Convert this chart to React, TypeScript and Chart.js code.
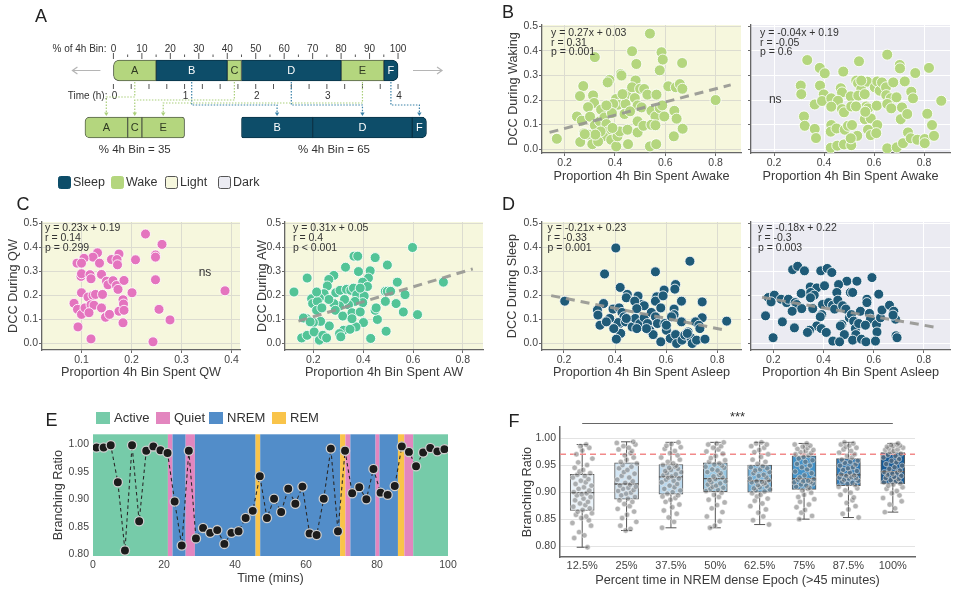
import React, { useEffect, useRef } from 'react';
import { Chart, registerables } from 'chart.js';

Chart.register(...registerables);

const FONT = "'Liberation Sans', Arial, Helvetica, sans-serif";
Chart.defaults.font.family = FONT;
Chart.defaults.font.size = 10.5;
Chart.defaults.color = '#444';

// ---------------- Panel A data ----------------
const aSegLabels = ['A', 'B', 'C', 'D', 'E', 'F'];
const aSegState = ['Wake', 'Sleep', 'Wake', 'Sleep', 'Wake', 'Sleep'];
const aTopStart = [0, 15, 40, 45, 80, 95];
const aTopEnd = [15, 40, 45, 80, 95, 100];
const aBotStart = [-10, 45, 5, 70, 10, 105];
const aBotEnd = [5, 70, 10, 105, 25, 110];
const aLinkLevel = [97, 105, 100, 105, 103, 105];
const aPctTicks = [0, 10, 20, 30, 40, 50, 60, 70, 80, 90, 100];
const aPctMinor = [5, 15, 25, 35, 45, 55, 65, 75, 85, 95];
const aHourTicks = [0, 1, 2, 3, 4];
const aBinShare = [35, 65];
const aLegendNames = ['Sleep', 'Wake', 'Light', 'Dark'];

// ---------------- Scatter data (B, C, D) ----------------
const wakeLightPts = [[0.539,0.471],[0.169,0.042],[0.320,0.375],[0.468,0.399],[0.585,0.395],[0.590,0.365],[0.578,0.321],[0.667,0.351],[0.485,0.347],[0.423,0.306],[0.426,0.300],[0.378,0.282],[0.371,0.272],[0.482,0.280],[0.274,0.257],[0.261,0.216],[0.313,0.219],[0.317,0.188],[0.293,0.171],[0.345,0.161],[0.386,0.167],[0.404,0.204],[0.412,0.181],[0.393,0.184],[0.446,0.224],[0.442,0.184],[0.468,0.252],[0.479,0.208],[0.500,0.246],[0.516,0.245],[0.529,0.222],[0.565,0.222],[0.490,0.178],[0.506,0.170],[0.545,0.156],[0.561,0.133],[0.578,0.167],[0.588,0.178],[0.596,0.133],[0.612,0.256],[0.642,0.252],[0.658,0.265],[0.668,0.246],[0.636,0.156],[0.645,0.124],[0.634,0.052],[0.669,0.083],[0.800,0.200],[0.249,0.133],[0.268,0.116],[0.301,0.132],[0.277,0.065],[0.262,0.029],[0.293,0.059],[0.320,0.097],[0.340,0.113],[0.358,0.129],[0.366,0.102],[0.373,0.072],[0.353,0.052],[0.310,0.020],[0.333,0.031],[0.385,0.038],[0.405,0.011],[0.410,0.052],[0.419,0.072],[0.450,0.079],[0.452,0.020],[0.490,0.113],[0.490,0.068],[0.513,0.095],[0.539,0.011],[0.564,0.020],[0.545,0.099],[0.561,0.097],[0.343,0.072],[0.322,0.059],[0.390,0.086],[0.438,0.143],[0.460,0.154],[0.388,0.147],[0.366,0.178],[0.280,0.061],[0.430,0.224]];
const wakeLightFit = [[0.14,0.068],[0.86,0.262]];

const wakeDarkPts = [[0.333,0.363],[0.383,0.331],[0.403,0.309],[0.477,0.316],[0.540,0.358],[0.653,0.385],[0.703,0.343],[0.704,0.329],[0.765,0.310],[0.820,0.331],[0.307,0.259],[0.309,0.224],[0.384,0.259],[0.399,0.223],[0.363,0.182],[0.392,0.196],[0.429,0.207],[0.467,0.248],[0.472,0.231],[0.456,0.197],[0.429,0.173],[0.472,0.163],[0.480,0.150],[0.507,0.215],[0.529,0.279],[0.536,0.269],[0.549,0.245],[0.537,0.218],[0.563,0.224],[0.573,0.275],[0.603,0.252],[0.613,0.276],[0.623,0.238],[0.632,0.272],[0.648,0.252],[0.649,0.220],[0.667,0.207],[0.677,0.272],[0.690,0.211],[0.723,0.276],[0.749,0.234],[0.756,0.207],[0.869,0.197],[0.569,0.174],[0.576,0.166],[0.611,0.177],[0.653,0.184],[0.669,0.166],[0.712,0.170],[0.509,0.174],[0.528,0.174],[0.563,0.122],[0.587,0.125],[0.565,0.152],[0.613,0.098],[0.707,0.122],[0.733,0.143],[0.813,0.144],[0.320,0.133],[0.323,0.095],[0.363,0.082],[0.368,0.045],[0.429,0.098],[0.427,0.071],[0.450,0.084],[0.483,0.079],[0.496,0.095],[0.512,0.098],[0.533,0.054],[0.576,0.079],[0.587,0.057],[0.609,0.065],[0.427,0.005],[0.453,0.014],[0.480,0.019],[0.509,0.016],[0.507,0.044],[0.653,0.003],[0.691,0.007],[0.716,0.024],[0.736,0.068],[0.747,0.044],[0.773,0.038],[0.803,0.041],[0.803,0.024],[0.840,0.054],[0.832,0.098],[0.549,0.279]];

const qwPts = [[0.228,0.455],[0.261,0.412],[0.132,0.377],[0.123,0.359],[0.105,0.354],[0.091,0.334],[0.100,0.334],[0.136,0.334],[0.160,0.349],[0.175,0.372],[0.171,0.349],[0.172,0.327],[0.208,0.348],[0.248,0.368],[0.248,0.359],[0.099,0.279],[0.100,0.290],[0.117,0.286],[0.119,0.269],[0.140,0.287],[0.150,0.259],[0.153,0.244],[0.163,0.261],[0.170,0.241],[0.173,0.225],[0.185,0.262],[0.248,0.265],[0.100,0.211],[0.113,0.193],[0.123,0.200],[0.128,0.204],[0.142,0.204],[0.201,0.211],[0.387,0.219],[0.085,0.167],[0.092,0.142],[0.100,0.121],[0.107,0.148],[0.119,0.161],[0.125,0.159],[0.115,0.128],[0.140,0.148],[0.148,0.109],[0.156,0.121],[0.175,0.134],[0.183,0.182],[0.184,0.164],[0.185,0.138],[0.183,0.086],[0.255,0.142],[0.277,0.098],[0.093,0.069],[0.119,0.019],[0.243,0.007]];

const awPts = [[0.598,0.399],[0.363,0.363],[0.378,0.363],[0.448,0.357],[0.497,0.326],[0.329,0.317],[0.381,0.299],[0.428,0.302],[0.421,0.272],[0.398,0.255],[0.417,0.237],[0.175,0.272],[0.282,0.283],[0.262,0.266],[0.256,0.239],[0.243,0.207],[0.122,0.214],[0.290,0.211],[0.307,0.221],[0.333,0.225],[0.350,0.221],[0.361,0.230],[0.374,0.203],[0.404,0.197],[0.398,0.170],[0.367,0.175],[0.341,0.161],[0.325,0.183],[0.305,0.156],[0.282,0.166],[0.262,0.183],[0.224,0.189],[0.193,0.186],[0.197,0.166],[0.216,0.175],[0.213,0.138],[0.234,0.148],[0.288,0.138],[0.318,0.114],[0.355,0.128],[0.388,0.131],[0.401,0.087],[0.371,0.069],[0.355,0.103],[0.321,0.055],[0.305,0.041],[0.310,0.028],[0.264,0.073],[0.229,0.092],[0.200,0.087],[0.173,0.103],[0.160,0.106],[0.187,0.090],[0.153,0.023],[0.175,0.034],[0.203,0.048],[0.224,0.014],[0.238,0.034],[0.253,0.023],[0.347,0.059],[0.430,0.021],[0.492,0.051],[0.457,0.100],[0.448,0.138],[0.452,0.148],[0.489,0.175],[0.489,0.217],[0.497,0.217],[0.510,0.217],[0.532,0.166],[0.537,0.255],[0.568,0.203],[0.561,0.131],[0.618,0.120],[0.722,0.255],[0.213,0.214],[0.388,0.230]];
const awFit = [[0.14,0.093],[0.84,0.31]];

const sleepLightPts = [[0.403,0.397],[0.693,0.342],[0.558,0.298],[0.359,0.289],[0.420,0.233],[0.448,0.204],[0.444,0.190],[0.490,0.197],[0.503,0.162],[0.514,0.157],[0.477,0.176],[0.485,0.145],[0.563,0.194],[0.558,0.176],[0.592,0.222],[0.588,0.198],[0.579,0.148],[0.637,0.245],[0.634,0.226],[0.660,0.176],[0.631,0.143],[0.631,0.120],[0.741,0.173],[0.741,0.107],[0.837,0.093],[0.203,0.176],[0.355,0.166],[0.331,0.139],[0.333,0.118],[0.341,0.076],[0.392,0.143],[0.416,0.148],[0.427,0.129],[0.435,0.111],[0.418,0.083],[0.412,0.087],[0.441,0.090],[0.422,0.042],[0.405,0.018],[0.467,0.069],[0.479,0.104],[0.497,0.083],[0.514,0.107],[0.527,0.083],[0.536,0.055],[0.542,0.129],[0.558,0.111],[0.566,0.083],[0.549,0.037],[0.579,0.007],[0.595,0.083],[0.601,0.055],[0.621,0.111],[0.616,0.021],[0.637,0.037],[0.641,0.000],[0.660,0.090],[0.662,0.014],[0.673,0.035],[0.686,0.048],[0.697,0.024],[0.702,0.000],[0.719,0.014],[0.715,0.090],[0.728,0.076],[0.732,0.062],[0.752,0.018],[0.683,0.042],[0.601,0.076],[0.523,0.062],[0.485,0.062],[0.444,0.104],[0.379,0.104],[0.366,0.090],[0.395,0.062]];
const sleepLightFit = [[0.15,0.199],[0.84,0.054]];

const sleepDarkPts = [[0.277,0.307],[0.297,0.321],[0.324,0.302],[0.389,0.302],[0.415,0.312],[0.433,0.295],[0.593,0.274],[0.493,0.259],[0.533,0.259],[0.347,0.235],[0.373,0.231],[0.404,0.240],[0.460,0.245],[0.453,0.212],[0.507,0.212],[0.516,0.212],[0.573,0.184],[0.573,0.170],[0.620,0.205],[0.180,0.191],[0.204,0.201],[0.191,0.173],[0.231,0.184],[0.253,0.170],[0.260,0.184],[0.311,0.208],[0.349,0.212],[0.363,0.201],[0.348,0.190],[0.287,0.170],[0.293,0.162],[0.313,0.145],[0.275,0.134],[0.169,0.115],[0.236,0.090],[0.199,0.024],[0.284,0.065],[0.357,0.145],[0.396,0.162],[0.393,0.120],[0.387,0.111],[0.373,0.073],[0.344,0.055],[0.336,0.046],[0.391,0.062],[0.411,0.046],[0.437,0.010],[0.420,0.170],[0.436,0.159],[0.444,0.143],[0.457,0.180],[0.476,0.157],[0.489,0.143],[0.473,0.079],[0.467,0.073],[0.483,0.037],[0.464,0.007],[0.503,0.107],[0.511,0.120],[0.520,0.093],[0.527,0.062],[0.529,0.037],[0.516,0.014],[0.540,0.083],[0.547,0.134],[0.551,0.018],[0.569,0.007],[0.583,0.125],[0.587,0.101],[0.567,0.076],[0.611,0.079],[0.613,0.048],[0.607,0.010],[0.627,0.107],[0.633,0.139],[0.663,0.159],[0.680,0.134],[0.687,0.101],[0.677,0.118],[0.689,0.032],[0.693,0.024]];
const sleepDarkFit = [[0.155,0.192],[0.855,0.066]];

// ---------------- Panel E data ----------------
const eTime = [1,3,5,7,9,11,13,15,17,19,21,23,25,27,29,31,33,35,37,39,41,43,45,47,49,51,53,55,57,59,61,63,65,67,69,71,73,75,77,79,81,83,85,87,89,91,93,95,97,99];
const eRatio = [0.994,0.994,0.998,0.931,0.807,0.998,0.860,0.988,0.996,0.989,0.984,0.896,0.816,0.988,0.829,0.848,0.839,0.844,0.819,0.839,0.842,0.866,0.879,0.942,0.866,0.901,0.877,0.919,0.892,0.923,0.838,0.835,0.901,0.992,0.842,0.988,0.911,0.922,0.900,0.955,0.912,0.908,0.924,0.996,0.986,0.960,0.985,0.993,0.987,0.991];
const eBandStart = [0, 21.1, 22.4, 26.1, 28.7, 45.8, 47.1, 69.6, 71.1, 72.5, 79.6, 80.7, 85.9, 87.7, 90.2];
const eBandEnd = [21.1, 22.4, 26.1, 28.7, 45.8, 47.1, 69.6, 71.1, 72.5, 79.6, 80.7, 85.9, 87.7, 90.2, 100];
const eBandState = ['Active','Quiet','NREM','Quiet','NREM','REM','NREM','REM','Quiet','NREM','Quiet','NREM','REM','Quiet','Active'];
const eStates = ['Active', 'Quiet', 'NREM', 'REM'];
const eXTicks = [0, 20, 40, 60, 80, 100];
const eYTicks = [0.80, 0.85, 0.90, 0.95, 1.00];

// ---------------- Panel F data ----------------
const fLabels = ['12.5%', '25%', '37.5%', '50%', '62.5%', '75%', '87.5%', '100%'];
const fMin = [0.798, 0.829, 0.834, 0.834, 0.840, 0.850, 0.853, 0.863];
const fQ1 = [0.866, 0.887, 0.896, 0.901, 0.900, 0.905, 0.912, 0.915];
const fMed = [0.899, 0.915, 0.928, 0.925, 0.921, 0.925, 0.932, 0.938];
const fQ3 = [0.933, 0.954, 0.951, 0.954, 0.950, 0.967, 0.962, 0.973];
const fMax = [0.988, 0.993, 0.992, 0.992, 0.992, 0.990, 0.992, 0.990];
const fRef = 0.97;
const fYTicks = [0.80, 0.85, 0.90, 0.95, 1.00];
const fPoints = [
  [0.798,0.815,0.82,0.826,0.838,0.843,0.848,0.852,0.855,0.858,0.861,0.864,0.867,0.87,0.873,0.876,0.879,0.882,0.885,0.888,0.891,0.894,0.896,0.898,0.900,0.903,0.906,0.909,0.912,0.915,0.918,0.921,0.924,0.927,0.93,0.932,0.935,0.938,0.941,0.945,0.95,0.955,0.962,0.97,0.977,0.982,0.985,0.988],
  [0.829,0.832,0.838,0.845,0.852,0.858,0.864,0.869,0.874,0.878,0.882,0.885,0.888,0.891,0.894,0.897,0.899,0.902,0.904,0.906,0.908,0.91,0.912,0.914,0.917,0.92,0.923,0.927,0.93,0.934,0.937,0.941,0.944,0.947,0.95,0.953,0.956,0.96,0.964,0.968,0.972,0.976,0.979,0.982,0.985,0.988,0.991,0.993],
  [0.834,0.845,0.853,0.86,0.866,0.872,0.877,0.882,0.886,0.889,0.892,0.894,0.897,0.9,0.903,0.906,0.909,0.912,0.915,0.918,0.921,0.923,0.925,0.927,0.929,0.931,0.933,0.935,0.937,0.939,0.941,0.943,0.945,0.947,0.949,0.95,0.953,0.956,0.96,0.964,0.968,0.972,0.976,0.98,0.983,0.986,0.989,0.992],
  [0.834,0.838,0.846,0.855,0.863,0.87,0.876,0.881,0.886,0.891,0.895,0.899,0.902,0.904,0.906,0.908,0.91,0.912,0.914,0.916,0.918,0.92,0.922,0.924,0.927,0.929,0.932,0.935,0.937,0.94,0.942,0.945,0.947,0.949,0.951,0.953,0.956,0.959,0.963,0.967,0.971,0.975,0.979,0.982,0.985,0.988,0.99,0.992],
  [0.84,0.848,0.855,0.862,0.868,0.874,0.879,0.884,0.888,0.892,0.895,0.898,0.901,0.903,0.905,0.907,0.909,0.911,0.913,0.915,0.917,0.918,0.919,0.92,0.922,0.925,0.927,0.93,0.932,0.935,0.937,0.94,0.942,0.944,0.946,0.948,0.952,0.956,0.96,0.965,0.97,0.974,0.978,0.982,0.985,0.988,0.99,0.992],
  [0.85,0.856,0.862,0.867,0.872,0.877,0.882,0.887,0.891,0.895,0.899,0.903,0.906,0.908,0.91,0.912,0.914,0.916,0.918,0.919,0.92,0.921,0.923,0.924,0.927,0.931,0.935,0.938,0.942,0.946,0.949,0.952,0.956,0.959,0.962,0.965,0.968,0.97,0.972,0.974,0.976,0.978,0.98,0.982,0.984,0.986,0.988,0.99],
  [0.853,0.86,0.868,0.874,0.88,0.885,0.89,0.895,0.899,0.903,0.907,0.91,0.913,0.915,0.917,0.919,0.921,0.923,0.925,0.926,0.927,0.928,0.93,0.931,0.933,0.936,0.939,0.941,0.944,0.946,0.949,0.951,0.954,0.956,0.958,0.96,0.964,0.967,0.97,0.973,0.976,0.979,0.982,0.984,0.986,0.988,0.99,0.992],
  [0.863,0.87,0.877,0.883,0.889,0.894,0.898,0.902,0.906,0.909,0.912,0.914,0.916,0.918,0.92,0.922,0.924,0.926,0.928,0.93,0.932,0.934,0.936,0.937,0.94,0.943,0.946,0.949,0.952,0.955,0.958,0.961,0.964,0.967,0.969,0.971,0.974,0.976,0.978,0.979,0.981,0.982,0.984,0.985,0.986,0.987,0.988,0.99],
];
const fJitter = [0.12,-0.18,0.05,-0.07,0.2,-0.22,0.15,-0.02,0.09,-0.14,0.22,-0.1,0.01,0.17,-0.2,0.07,-0.05,0.13,-0.16,0.03,0.19,-0.12,-0.01,0.1,-0.19,0.16,-0.08,0.04,0.21,-0.15,0.08,-0.03,0.14,-0.21,0.06,-0.11,0.18,-0.06,0.02,-0.17,0.11,-0.09,0.23,-0.13,0.0,0.16,-0.04,0.09];

// ---------------- Styles ----------------
const SLEEP = '#0d4d69';
const WAKE = '#b4d67e';
const LIGHT_BG = '#f6f7dd';
const DARK_BG = '#ebebf2';
const LIGHT_GRID = '#dcdcd0';
const DARK_GRID = '#ffffff';
const STATE_COLORS: Record<string, string> = { Active: '#76cba9', Quiet: '#e386bf', NREM: '#528dc9', REM: '#f9c44a' };
const F_BOX = ['#eaf3fa', '#d2e5f3', '#b9d7ec', '#98c7e2', '#72b0d8', '#4392c8', '#2b78b6', '#175c98'];

const BASE = {
  animation: false,
  responsive: false,
  devicePixelRatio: 1,
  events: [],
};

function ChartBox(props: { left: number; top: number; width: number; height: number; build: () => any }) {
  const ref = useRef<HTMLCanvasElement | null>(null);
  useEffect(() => {
    if (!ref.current) return;
    const chart = new Chart(ref.current, props.build());
    return () => chart.destroy();
  }, []);
  return (
    <canvas
      ref={ref}
      width={props.width}
      height={props.height}
      style={{ position: 'absolute', left: props.left, top: props.top, width: props.width, height: props.height }}
    />
  );
}

// ---------------- Panel A ----------------
const aRadius: any[] = [
  [{ topLeft: 6, bottomLeft: 6 }, { topLeft: 5, bottomLeft: 5 }],
  [0, { topLeft: 2, bottomLeft: 2 }],
  [0, 0],
  [0, 0],
  [0, { topRight: 3, bottomRight: 3 }],
  [{ topRight: 6, bottomRight: 6 }, { topRight: 5, bottomRight: 5 }],
];

function arrowDown(ctx: any, x: number, y: number) {
  ctx.beginPath();
  ctx.moveTo(x - 2.2, y - 3.5);
  ctx.lineTo(x + 2.2, y - 3.5);
  ctx.lineTo(x, y);
  ctx.closePath();
  ctx.fill();
}

const aPlugin = {
  id: 'aDeco',
  afterDatasetsDraw(chart: any) {
    const ctx = chart.ctx;
    const xs = chart.scales.x;
    const ys = chart.scales.y;
    const px = (v: number) => xs.getPixelForValue(v);
    const topY = ys.getPixelForValue(0);
    const botY = ys.getPixelForValue(1);
    const half = 10.5;
    ctx.save();
    // segment letters
    chart.data.datasets.forEach((ds: any, di: number) => {
      const meta = chart.getDatasetMeta(di);
      meta.data.forEach((el: any) => {
        ctx.fillStyle = aSegState[di] === 'Sleep' ? '#ffffff' : '#2f3a22';
        ctx.font = `11px ${FONT}`;
        ctx.textAlign = 'center';
        ctx.textBaseline = 'middle';
        ctx.fillText(ds.label, (el.x + el.base) / 2, el.y + 0.5);
      });
    });
    // % of 4h bin axis
    ctx.fillStyle = '#333';
    ctx.font = `10px ${FONT}`;
    ctx.textAlign = 'right';
    ctx.textBaseline = 'middle';
    ctx.fillText('% of 4h Bin:', px(0) - 7, 49);
    ctx.textAlign = 'center';
    aPctTicks.forEach((v) => ctx.fillText(String(v), px(v), 49));
    ctx.strokeStyle = '#555';
    ctx.lineWidth = 1;
    ctx.beginPath();
    aPctTicks.forEach((v) => { ctx.moveTo(px(v), 53); ctx.lineTo(px(v), 59); });
    aPctMinor.forEach((v) => { ctx.moveTo(px(v), 54.5); ctx.lineTo(px(v), 57); });
    ctx.stroke();
    // time axis
    ctx.beginPath();
    for (let k = 0; k <= 16; k++) {
      const x = px(k * 6.25);
      ctx.moveTo(x, topY + half + 3);
      ctx.lineTo(x, topY + half + 8);
    }
    ctx.stroke();
    ctx.textAlign = 'right';
    ctx.fillText('Time (h):', px(0) - 6, 96.5);
    ctx.textAlign = 'center';
    aHourTicks.forEach((h) => ctx.fillText(String(h), px(h * 25) + 1, 96.5));
    // connectors
    const wakeBot = [Math.min(...aBotStart.filter((_, i) => aSegState[i] === 'Wake')), Math.max(...aBotEnd.filter((_, i) => aSegState[i] === 'Wake'))];
    const sleepBot = [Math.min(...aBotStart.filter((_, i) => aSegState[i] === 'Sleep')), Math.max(...aBotEnd.filter((_, i) => aSegState[i] === 'Sleep'))];
    aSegLabels.forEach((_, i) => {
      const sleep = aSegState[i] === 'Sleep';
      const col = sleep ? '#3b82a8' : '#aacf7a';
      const x0 = px((aTopStart[i] + aTopEnd[i]) / 2);
      const x1 = px((aBotStart[i] + aBotEnd[i]) / 2);
      const yl = aLinkLevel[i];
      const yEnd = botY - half - 1;
      ctx.strokeStyle = col;
      ctx.fillStyle = col;
      ctx.lineWidth = 1.2;
      ctx.setLineDash([1.5, 1.5]);
      ctx.beginPath();
      ctx.moveTo(x0, topY + half + 1);
      ctx.lineTo(x0, yl);
      ctx.lineTo(x1, yl);
      ctx.lineTo(x1, yEnd - 3);
      ctx.stroke();
      ctx.setLineDash([]);
      arrowDown(ctx, x1, yEnd);
    });
    // side arrows
    ctx.strokeStyle = '#b5b5b5';
    ctx.lineWidth = 1.2;
    ctx.beginPath();
    ctx.moveTo(px(0) - 13, topY); ctx.lineTo(px(0) - 41, topY);
    ctx.moveTo(px(0) - 36, topY - 3.5); ctx.lineTo(px(0) - 41, topY); ctx.lineTo(px(0) - 36, topY + 3.5);
    ctx.moveTo(px(100) + 15, topY); ctx.lineTo(px(100) + 44, topY);
    ctx.moveTo(px(100) + 39, topY - 3.5); ctx.lineTo(px(100) + 44, topY); ctx.lineTo(px(100) + 39, topY + 3.5);
    ctx.stroke();
    // share labels
    ctx.fillStyle = '#333';
    ctx.font = `11.5px ${FONT}`;
    ctx.textAlign = 'center';
    ctx.fillText(`% 4h Bin = ${aBinShare[0]}`, px((wakeBot[0] + wakeBot[1]) / 2), 150);
    ctx.fillText(`% 4h Bin = ${aBinShare[1]}`, px((sleepBot[0] + sleepBot[1]) / 2), 150);
    // legend
    const legX = [58, 111, 165, 218];
    const legFill = [SLEEP, WAKE, LIGHT_BG, DARK_BG];
    const legStroke = [SLEEP, WAKE, '#555', '#555'];
    ctx.font = `12.5px ${FONT}`;
    ctx.textAlign = 'left';
    aLegendNames.forEach((n, i) => {
      ctx.fillStyle = legFill[i];
      ctx.strokeStyle = legStroke[i];
      ctx.lineWidth = 1;
      ctx.beginPath();
      ctx.roundRect(legX[i] + 0.5, 176.5, 12, 12, 2);
      ctx.fill();
      ctx.stroke();
      ctx.fillStyle = '#333';
      ctx.fillText(n, legX[i] + 15, 183);
    });
    ctx.restore();
  },
};

function aConfig(): any {
  const datasets = aSegLabels.map((lab, i) => {
    const sleep = aSegState[i] === 'Sleep';
    return {
      label: lab,
      data: [[aTopStart[i], aTopEnd[i]], [aBotStart[i], aBotEnd[i]]],
      backgroundColor: sleep ? SLEEP : WAKE,
      borderColor: sleep ? '#0a3448' : '#56614a',
      borderWidth: 1,
      borderSkipped: false,
      borderRadius: aRadius[i],
      barThickness: 21,
      grouped: false,
    };
  });
  return {
    type: 'bar',
    data: { labels: ['bin', 'split'], datasets },
    options: {
      ...BASE,
      indexAxis: 'y',
      layout: { padding: { top: 42, bottom: 39, left: 0, right: 0 } },
      plugins: { legend: { display: false }, tooltip: { enabled: false } },
      scales: {
        x: { type: 'linear', min: -39.85, max: 128.8, display: false },
        y: { type: 'category', display: false, offset: true },
      },
    },
    plugins: [aPlugin],
  };
}

// ---------------- Scatter panels ----------------
type ScatterSpec = {
  plot: number[];
  xr: number[];
  yr: number[];
  xTicks: number[];
  yTicks: number[];
  showY: boolean;
  xTitle: string;
  yTitle: string;
  yTitleOff: number;
  xTitleDy: number;
  bg: string;
  grid: string;
  color: string;
  radius: number;
  pts: number[][];
  fit: number[][] | null;
  notes: string[];
  noteDx: number;
  noteDy: number;
  noteGap: number;
  ns: number[] | null;
};

const SM = { l: 48, t: 10, r: 8, b: 34 };
const T_Y = [0, 0.1, 0.2, 0.3, 0.4, 0.5];

const scatterSpecs: ScatterSpec[] = [
  { plot: [542, 25, 741, 153], xr: [0.110, 0.901], yr: [-0.016, 0.506], xTicks: [0.2, 0.4, 0.6, 0.8], yTicks: T_Y, showY: true,
    xTitle: 'Proportion 4h Bin Spent Awake', yTitle: 'DCC During Waking', yTitleOff: 29, xTitleDy: 23,
    bg: LIGHT_BG, grid: LIGHT_GRID, color: WAKE, radius: 5.5, pts: wakeLightPts, fit: wakeLightFit,
    notes: ['y = 0.27x + 0.03', 'r = 0.31', 'p = 0.001'], noteDx: 9, noteDy: 8, noteGap: 9.8, ns: null },
  { plot: [751, 25, 950, 153], xr: [0.108, 0.904], yr: [-0.016, 0.506], xTicks: [0.2, 0.4, 0.6, 0.8], yTicks: T_Y, showY: false,
    xTitle: 'Proportion 4h Bin Spent Awake', yTitle: '', yTitleOff: 0, xTitleDy: 23,
    bg: DARK_BG, grid: DARK_GRID, color: WAKE, radius: 5.5, pts: wakeDarkPts, fit: null,
    notes: ['y = -0.04x + 0.19', 'r = -0.05', 'p = 0.6'], noteDx: 9, noteDy: 8, noteGap: 9.8, ns: [0.205, 0.2] },
  { plot: [42, 222, 240, 350], xr: [0.021, 0.417], yr: [-0.027, 0.505], xTicks: [0.1, 0.2, 0.3, 0.4], yTicks: T_Y, showY: true,
    xTitle: 'Proportion 4h Bin Spent QW', yTitle: 'DCC During QW', yTitleOff: 29, xTitleDy: 22,
    bg: LIGHT_BG, grid: LIGHT_GRID, color: '#e474be', radius: 5, pts: qwPts, fit: null,
    notes: ['y = 0.23x + 0.19', 'r = 0.14', 'p = 0.299'], noteDx: 3, noteDy: 6.5, noteGap: 10, ns: [0.347, 0.296] },
  { plot: [285, 222, 483, 350], xr: [0.086, 0.881], yr: [-0.027, 0.505], xTicks: [0.2, 0.4, 0.6, 0.8], yTicks: T_Y, showY: true,
    xTitle: 'Proportion 4h Bin Spent AW', yTitle: 'DCC During AW', yTitleOff: 23, xTitleDy: 22,
    bg: LIGHT_BG, grid: LIGHT_GRID, color: '#52c497', radius: 5, pts: awPts, fit: awFit,
    notes: ['y = 0.31x + 0.05', 'r = 0.4', 'p < 0.001'], noteDx: 8, noteDy: 6.5, noteGap: 10, ns: null },
  { plot: [542, 222, 741, 350], xr: [0.114, 0.893], yr: [-0.027, 0.505], xTicks: [0.2, 0.4, 0.6, 0.8], yTicks: T_Y, showY: true,
    xTitle: 'Proportion 4h Bin Spent Asleep', yTitle: 'DCC During Sleep', yTitleOff: 30, xTitleDy: 22,
    bg: LIGHT_BG, grid: LIGHT_GRID, color: '#1f5b78', radius: 5, pts: sleepLightPts, fit: sleepLightFit,
    notes: ['y = -0.21x + 0.23', 'r = -0.33', 'p = 0.001'], noteDx: 5.5, noteDy: 6.5, noteGap: 10, ns: null },
  { plot: [751, 222, 950, 350], xr: [0.111, 0.904], yr: [-0.027, 0.505], xTicks: [0.2, 0.4, 0.6, 0.8], yTicks: T_Y, showY: false,
    xTitle: 'Proportion 4h Bin Spent Asleep', yTitle: '', yTitleOff: 0, xTitleDy: 22,
    bg: DARK_BG, grid: DARK_GRID, color: '#1f5b78', radius: 5, pts: sleepDarkPts, fit: sleepDarkFit,
    notes: ['y = -0.18x + 0.22', 'r = -0.3', 'p = 0.003'], noteDx: 7, noteDy: 6.5, noteGap: 10, ns: null },
];

function scatterPlugin(s: ScatterSpec) {
  return {
    id: 'scatterDeco',
    beforeDraw(chart: any) {
      const { ctx, chartArea: a } = chart;
      ctx.save();
      ctx.fillStyle = s.bg;
      ctx.fillRect(a.left, a.top, a.right - a.left, a.bottom - a.top);
      ctx.restore();
    },
    afterDraw(chart: any) {
      const { ctx, chartArea: a, scales } = chart;
      ctx.save();
      ctx.fillStyle = '#333';
      ctx.textBaseline = 'middle';
      ctx.textAlign = 'left';
      ctx.font = `10.5px ${FONT}`;
      s.notes.forEach((t, i) => ctx.fillText(t, a.left + s.noteDx, a.top + s.noteDy + i * s.noteGap));
      if (s.ns) {
        ctx.font = `12px ${FONT}`;
        ctx.textAlign = 'center';
        ctx.fillText('ns', scales.x.getPixelForValue(s.ns[0]), scales.y.getPixelForValue(s.ns[1]));
      }
      ctx.font = `12.7px ${FONT}`;
      ctx.textAlign = 'center';
      ctx.fillStyle = '#3a3a3a';
      ctx.fillText(s.xTitle, (a.left + a.right) / 2, a.bottom + s.xTitleDy);
      if (s.yTitle) {
        ctx.translate(a.left - s.yTitleOff, (a.top + a.bottom) / 2);
        ctx.rotate(-Math.PI / 2);
        ctx.fillText(s.yTitle, 0, 0);
      }
      ctx.restore();
    },
  };
}

function scatterConfig(s: ScatterSpec): any {
  const datasets: any[] = [];
  if (s.fit) {
    datasets.push({
      type: 'line',
      data: s.fit.map((p) => ({ x: p[0], y: p[1] })),
      borderColor: 'rgba(150,150,145,0.9)',
      borderWidth: 3,
      borderDash: [9, 6],
      pointRadius: 0,
      fill: false,
    });
  }
  datasets.push({
    type: 'scatter',
    data: s.pts.map((p) => ({ x: p[0], y: p[1] })),
    backgroundColor: s.color,
    borderColor: 'rgba(255,255,255,0.85)',
    borderWidth: 1,
    pointRadius: s.radius,
  });
  return {
    type: 'scatter',
    data: { datasets },
    options: {
      ...BASE,
      layout: { padding: { left: 0, top: SM.t, right: SM.r, bottom: 0 } },
      plugins: { legend: { display: false }, tooltip: { enabled: false } },
      scales: {
        x: {
          type: 'linear', min: s.xr[0], max: s.xr[1],
          afterBuildTicks: (ax: any) => { ax.ticks = s.xTicks.map((v) => ({ value: v })); },
          afterFit: (ax: any) => { ax.height = SM.b; },
          ticks: { font: { size: 10.5 }, color: '#444', padding: 1, callback: (v: any) => Number(v).toFixed(1) },
          grid: { color: s.grid, lineWidth: 1, drawTicks: true, tickLength: 3, tickColor: '#666' },
          border: { display: true, color: '#666', width: 1.3 },
        },
        y: {
          type: 'linear', min: s.yr[0], max: s.yr[1],
          afterBuildTicks: (ax: any) => { ax.ticks = s.yTicks.map((v) => ({ value: v })); },
          afterFit: (ax: any) => { ax.width = SM.l; },
          ticks: { display: s.showY, font: { size: 10.5 }, color: '#444', padding: 1, callback: (v: any) => Number(v).toFixed(1) },
          grid: { color: s.grid, lineWidth: 1, drawTicks: true, tickLength: 3, tickColor: '#666' },
          border: { display: true, color: '#666', width: 1.3 },
        },
      },
    },
    plugins: [scatterPlugin(s)],
  };
}

// ---------------- Panel E ----------------
const EP = [93, 434, 448, 556];
const EM = { l: 50, t: 10, r: 16, b: 34 };

const ePlugin = {
  id: 'eDeco',
  beforeDatasetsDraw(chart: any) {
    const { ctx, chartArea: a } = chart;
    const xs = chart.scales.x;
    ctx.save();
    eBandStart.forEach((s0, i) => {
      const x0 = xs.getPixelForValue(s0);
      const x1 = xs.getPixelForValue(eBandEnd[i]);
      ctx.fillStyle = STATE_COLORS[eBandState[i]];
      ctx.fillRect(x0, a.top, x1 - x0, a.bottom - a.top);
    });
    ctx.restore();
  },
  afterDraw(chart: any) {
    const { ctx, chartArea: a } = chart;
    ctx.save();
    ctx.fillStyle = '#3a3a3a';
    ctx.font = `12.7px ${FONT}`;
    ctx.textAlign = 'center';
    ctx.textBaseline = 'middle';
    ctx.fillText('Time (mins)', (a.left + a.right) / 2, a.bottom + 22.5);
    ctx.translate(a.left - 34.5, (a.top + a.bottom) / 2);
    ctx.rotate(-Math.PI / 2);
    ctx.fillText('Branching Ratio', 0, 0);
    ctx.restore();
  },
};

function eConfig(): any {
  return {
    type: 'scatter',
    data: {
      datasets: [{
        data: eTime.map((t, i) => ({ x: t, y: eRatio[i] })),
        showLine: true,
        borderColor: '#2b2b2b',
        borderWidth: 1.1,
        borderDash: [3.5, 3],
        pointRadius: 4.6,
        pointBackgroundColor: '#1c1c1c',
        pointBorderColor: '#cdcdcd',
        pointBorderWidth: 1.3,
      }],
    },
    options: {
      ...BASE,
      layout: { padding: { left: 0, top: EM.t, right: EM.r, bottom: 0 } },
      plugins: { legend: { display: false }, tooltip: { enabled: false } },
      scales: {
        x: {
          type: 'linear', min: 0, max: 100,
          afterBuildTicks: (ax: any) => { ax.ticks = eXTicks.map((v) => ({ value: v })); },
          afterFit: (ax: any) => { ax.height = EM.b; },
          ticks: { font: { size: 10.5 }, color: '#444', padding: 3, callback: (v: any) => String(v) },
          grid: { display: false, drawTicks: false },
          border: { display: false },
        },
        y: {
          type: 'linear', min: 0.797, max: 1.018,
          afterBuildTicks: (ax: any) => { ax.ticks = eYTicks.map((v) => ({ value: v })); },
          afterFit: (ax: any) => { ax.width = EM.l; },
          ticks: { font: { size: 10.5 }, color: '#444', padding: 4, callback: (v: any) => Number(v).toFixed(2) },
          grid: { display: false, drawTicks: false },
          border: { display: false },
        },
      },
    },
    plugins: [ePlugin],
  };
}

// ---------------- Panel F ----------------
const FP = [560, 427, 915, 557];
const FM = { l: 50, t: 26, r: 10, b: 34 };

const fPlugin = {
  id: 'fDeco',
  beforeDatasetsDraw(chart: any) {
    const { ctx } = chart;
    const xs = chart.scales.x;
    const ys = chart.scales.y;
    ctx.save();
    ctx.strokeStyle = '#555';
    ctx.lineWidth = 1;
    ctx.beginPath();
    fLabels.forEach((_, i) => {
      const x = xs.getPixelForValue(i);
      const yMax = ys.getPixelForValue(fMax[i]);
      const yMin = ys.getPixelForValue(fMin[i]);
      ctx.moveTo(x, ys.getPixelForValue(fQ3[i]));
      ctx.lineTo(x, yMax);
      ctx.moveTo(x, ys.getPixelForValue(fQ1[i]));
      ctx.lineTo(x, yMin);
      ctx.moveTo(x - 5.5, yMax);
      ctx.lineTo(x + 5.5, yMax);
      ctx.moveTo(x - 5.5, yMin);
      ctx.lineTo(x + 5.5, yMin);
    });
    ctx.stroke();
    ctx.restore();
  },
  afterDatasetDraw(chart: any, args: any) {
    if (args.index !== 1) return;
    const { ctx, chartArea: a } = chart;
    const xs = chart.scales.x;
    const ys = chart.scales.y;
    ctx.save();
    ctx.strokeStyle = '#555';
    ctx.lineWidth = 1.3;
    ctx.beginPath();
    fLabels.forEach((_, i) => {
      const x = xs.getPixelForValue(i);
      const y = ys.getPixelForValue(fMed[i]);
      ctx.moveTo(x - 12, y);
      ctx.lineTo(x + 12, y);
    });
    ctx.stroke();
    ctx.strokeStyle = '#f28a8a';
    ctx.lineWidth = 1.4;
    ctx.setLineDash([6, 4]);
    ctx.beginPath();
    const yr = ys.getPixelForValue(fRef);
    ctx.moveTo(a.left, yr);
    ctx.lineTo(a.right, yr);
    ctx.stroke();
    ctx.restore();
  },
  afterDraw(chart: any) {
    const { ctx, chartArea: a } = chart;
    const xs = chart.scales.x;
    ctx.save();
    ctx.strokeStyle = '#666';
    ctx.lineWidth = 1.2;
    ctx.beginPath();
    ctx.moveTo(xs.getPixelForValue(0), a.top - 3.5);
    ctx.lineTo(xs.getPixelForValue(fLabels.length - 1), a.top - 3.5);
    ctx.stroke();
    ctx.fillStyle = '#333';
    ctx.font = `13px ${FONT}`;
    ctx.textAlign = 'center';
    ctx.textBaseline = 'middle';
    ctx.fillText('***', (xs.getPixelForValue(0) + xs.getPixelForValue(fLabels.length - 1)) / 2, a.top - 10);
    ctx.fillStyle = '#3a3a3a';
    ctx.font = `12.7px ${FONT}`;
    ctx.fillText('Percent time in NREM dense Epoch (>45 minutes)', (a.left + a.right) / 2, a.bottom + 23.5);
    ctx.translate(a.left - 33, (a.top + a.bottom) / 2);
    ctx.rotate(-Math.PI / 2);
    ctx.fillText('Branching Ratio', 0, 0);
    ctx.restore();
  },
};

function fConfig(): any {
  const pts: any[] = [];
  fPoints.forEach((vals, i) => {
    vals.forEach((v, j) => {
      pts.push({ x: i + fJitter[(j + i * 7) % fJitter.length], y: v });
    });
  });
  return {
    type: 'bar',
    data: {
      datasets: [
        {
          type: 'scatter',
          data: pts,
          pointRadius: 2.7,
          backgroundColor: 'rgba(115,115,115,0.55)',
          borderColor: 'rgba(255,255,255,0.75)',
          borderWidth: 0.6,
        },
        {
          type: 'bar',
          data: fLabels.map((_, i) => ({ x: i, y: [fQ1[i], fQ3[i]] })),
          backgroundColor: F_BOX,
          borderColor: '#5a5a5a',
          borderWidth: 1,
          borderSkipped: false,
          barThickness: 24,
          grouped: false,
        },
      ],
    },
    options: {
      ...BASE,
      layout: { padding: { left: 0, top: FM.t, right: FM.r, bottom: 0 } },
      plugins: { legend: { display: false }, tooltip: { enabled: false } },
      scales: {
        x: {
          type: 'linear', min: -0.5, max: 7.5, offset: false,
          afterBuildTicks: (ax: any) => { ax.ticks = fLabels.map((_, i) => ({ value: i })); },
          afterFit: (ax: any) => { ax.height = FM.b; },
          ticks: { font: { size: 11 }, color: '#444', padding: 2, callback: (v: any) => fLabels[Math.round(Number(v))] ?? '' },
          grid: { display: false, drawTicks: false },
          border: { display: true, color: '#666', width: 1.5 },
        },
        y: {
          type: 'linear', min: 0.78, max: 1.0204,
          afterBuildTicks: (ax: any) => { ax.ticks = fYTicks.map((v) => ({ value: v })); },
          afterFit: (ax: any) => { ax.width = FM.l; },
          ticks: { font: { size: 10.5 }, color: '#444', padding: 4, callback: (v: any) => Number(v).toFixed(2) },
          grid: { color: '#e3e3e3', lineWidth: 1, drawTicks: false },
          border: { display: true, color: '#666', width: 1.5 },
        },
      },
    },
    plugins: [fPlugin],
  };
}

function boxFor(plot: number[], m: { l: number; t: number; r: number; b: number }) {
  return {
    left: plot[0] - m.l,
    top: plot[1] - m.t,
    width: plot[2] - plot[0] + m.l + m.r,
    height: plot[3] - plot[1] + m.t + m.b,
  };
}

const letterStyle: React.CSSProperties = {
  position: 'absolute',
  fontSize: 18,
  lineHeight: '18px',
  color: '#222',
  fontFamily: FONT,
};

export default function App() {
  const eBox = boxFor(EP, EM);
  const fBox = boxFor(FP, FM);
  const legendSq = [96, 156, 209, 272];
  return (
    <div style={{ position: 'fixed', left: 0, top: 0, width: 960, height: 594, background: '#fff', overflow: 'hidden', fontFamily: FONT }}>
      <ChartBox left={0} top={0} width={480} height={195} build={aConfig} />
      {scatterSpecs.map((s, i) => {
        const b = boxFor(s.plot, SM);
        return <ChartBox key={i} left={b.left} top={b.top} width={b.width} height={b.height} build={() => scatterConfig(s)} />;
      })}
      <ChartBox left={eBox.left} top={eBox.top} width={eBox.width} height={eBox.height} build={eConfig} />
      <ChartBox left={fBox.left} top={fBox.top} width={fBox.width} height={fBox.height} build={fConfig} />
      <div style={{ ...letterStyle, left: 35, top: 6.5 }}>A</div>
      <div style={{ ...letterStyle, left: 502, top: 2.5 }}>B</div>
      <div style={{ ...letterStyle, left: 16.5, top: 194.5 }}>C</div>
      <div style={{ ...letterStyle, left: 502, top: 194.5 }}>D</div>
      <div style={{ ...letterStyle, left: 45.5, top: 410.5 }}>E</div>
      <div style={{ ...letterStyle, left: 508.5, top: 411.5 }}>F</div>
      {eStates.map((st, i) => (
        <React.Fragment key={st}>
          <div style={{ position: 'absolute', left: legendSq[i], top: 411.5, width: 14, height: 12.5, background: STATE_COLORS[st] }} />
          <div style={{ position: 'absolute', left: legendSq[i] + 18, top: 410, fontSize: 13, lineHeight: '15px', color: '#333', fontFamily: FONT }}>{st}</div>
        </React.Fragment>
      ))}
    </div>
  );
}
